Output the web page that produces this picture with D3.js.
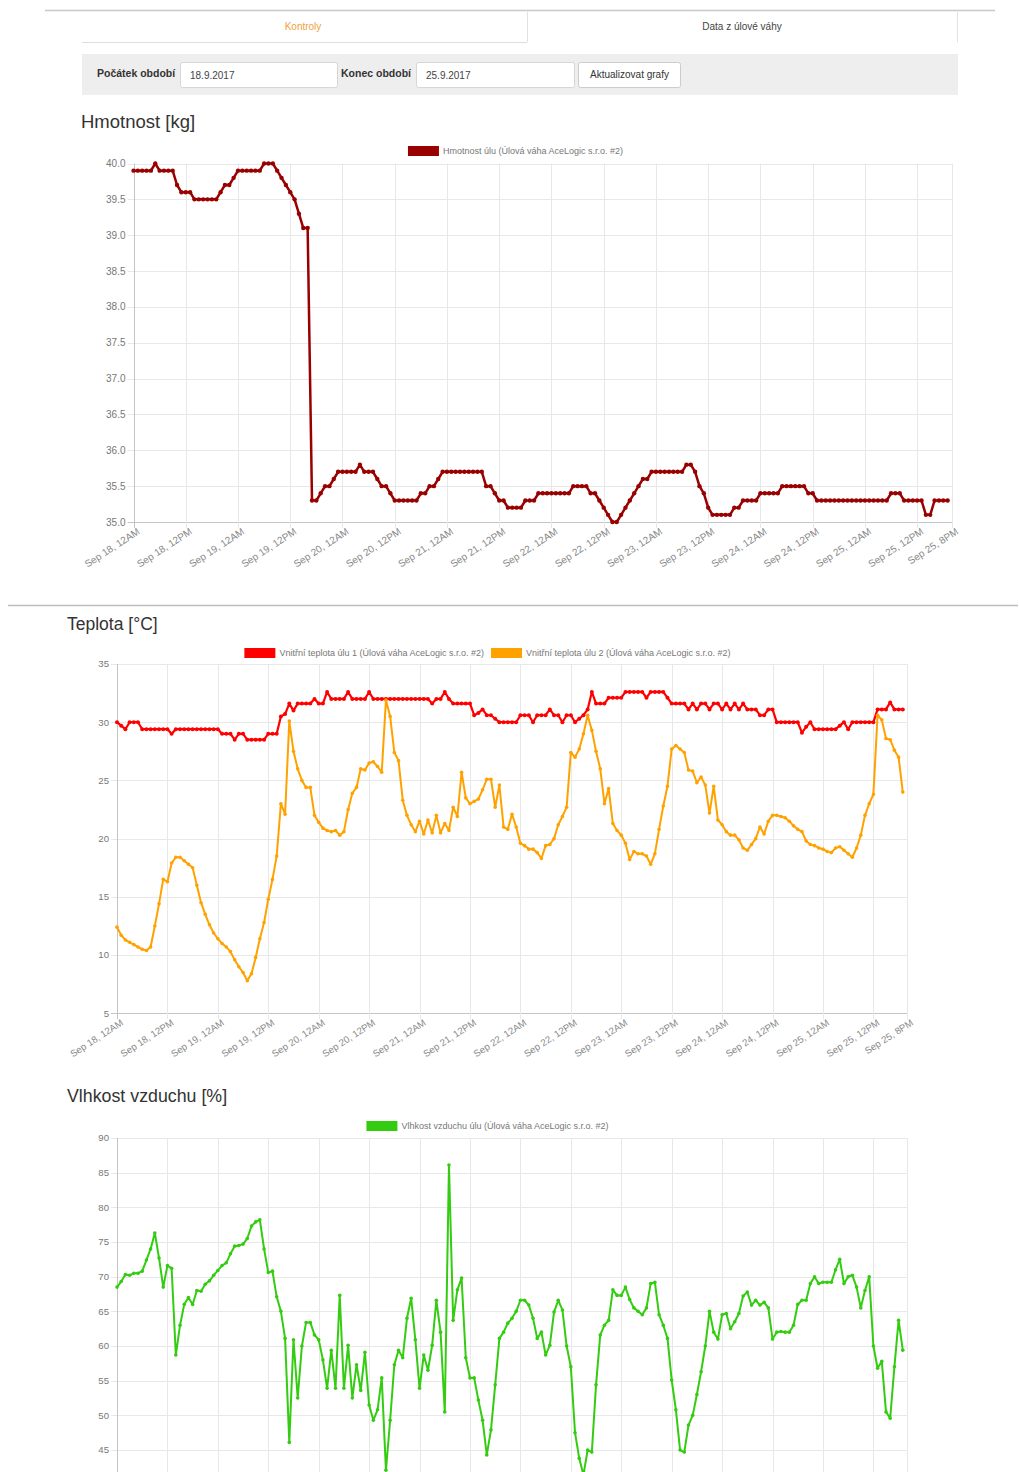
<!DOCTYPE html>
<html>
<head>
<meta charset="utf-8">
<script src="https://cdn.jsdelivr.net/npm/d3@7"></script>
<style>
  body { margin: 0; background: #fff; }
  svg { display: block; font-family: "Liberation Sans", Arial, sans-serif; }
</style>
</head>
<body>
<svg id="page" width="1019" height="1472"></svg>
<script>
// hourly readings, Sep 18 00:00 .. Sep 25 19:00
const start = new Date(2017, 8, 18, 0, 0);
const end = new Date(2017, 8, 25, 20, 0);

const weight = [
  39.9,39.9,39.9,39.9,39.9,40.0,39.9,39.9,39.9,39.9,
  39.7,39.6,39.6,39.6,39.5,39.5,39.5,39.5,39.5,39.5,
  39.6,39.7,39.7,39.8,39.9,39.9,39.9,39.9,39.9,39.9,
  40.0,40.0,40.0,39.9,39.8,39.7,39.6,39.5,39.3,39.1,
  39.1,35.3,35.3,35.4,35.5,35.5,35.6,35.7,35.7,35.7,
  35.7,35.7,35.8,35.7,35.7,35.7,35.6,35.5,35.5,35.4,
  35.3,35.3,35.3,35.3,35.3,35.3,35.4,35.4,35.5,35.5,
  35.6,35.7,35.7,35.7,35.7,35.7,35.7,35.7,35.7,35.7,
  35.7,35.5,35.5,35.4,35.3,35.3,35.2,35.2,35.2,35.2,
  35.3,35.3,35.3,35.4,35.4,35.4,35.4,35.4,35.4,35.4,
  35.4,35.5,35.5,35.5,35.5,35.4,35.4,35.3,35.2,35.1,
  35.0,35.0,35.1,35.2,35.3,35.4,35.5,35.6,35.6,35.7,
  35.7,35.7,35.7,35.7,35.7,35.7,35.7,35.8,35.8,35.7,
  35.5,35.4,35.2,35.1,35.1,35.1,35.1,35.1,35.2,35.2,
  35.3,35.3,35.3,35.3,35.4,35.4,35.4,35.4,35.4,35.5,
  35.5,35.5,35.5,35.5,35.5,35.4,35.4,35.3,35.3,35.3,
  35.3,35.3,35.3,35.3,35.3,35.3,35.3,35.3,35.3,35.3,
  35.3,35.3,35.3,35.3,35.4,35.4,35.4,35.3,35.3,35.3,
  35.3,35.3,35.1,35.1,35.3,35.3,35.3,35.3
];

const temp1 = [
  30.0,29.7,29.4,30.0,30.0,30.0,29.4,29.4,29.4,29.4,
  29.4,29.4,29.4,29.0,29.4,29.4,29.4,29.4,29.4,29.4,
  29.4,29.4,29.4,29.4,29.4,29.0,29.0,29.0,28.5,29.0,
  29.0,28.5,28.5,28.5,28.5,28.5,29.0,29.0,29.0,30.5,
  30.7,31.6,31.0,31.6,31.6,31.6,31.6,32.0,31.6,31.6,
  32.6,32.0,32.0,32.0,32.0,32.6,32.0,32.0,32.0,32.0,
  32.6,32.0,32.0,32.0,32.0,32.0,32.0,32.0,32.0,32.0,
  32.0,32.0,32.0,32.0,32.0,31.6,32.0,32.0,32.6,32.0,
  31.6,31.6,31.6,31.6,31.6,30.6,30.8,31.1,30.6,30.6,
  30.3,30.0,30.0,30.0,30.0,30.0,30.6,30.6,30.6,30.0,
  30.6,30.6,30.6,31.1,30.6,30.6,30.0,30.6,30.6,30.0,
  30.3,30.6,31.1,32.6,31.6,31.6,31.6,32.1,32.1,32.1,
  32.1,32.6,32.6,32.6,32.6,32.6,32.1,32.6,32.6,32.6,
  32.6,32.1,31.6,31.6,31.6,31.6,31.1,31.6,31.1,31.6,
  31.6,31.1,31.6,31.6,31.1,31.6,31.1,31.6,31.1,31.6,
  31.1,31.1,31.1,30.6,30.6,31.1,31.1,30.0,30.0,30.0,
  30.0,30.0,30.0,29.1,29.6,30.0,29.4,29.4,29.4,29.4,
  29.4,29.4,29.7,30.0,29.4,30.0,30.0,30.0,30.0,30.0,
  30.0,31.1,31.1,31.1,31.7,31.1,31.1,31.1
];

const temp2 = [
  12.4,11.7,11.3,11.1,10.9,10.7,10.5,10.4,10.7,12.5,
  14.4,16.5,16.3,17.9,18.4,18.4,18.1,17.8,17.5,16.0,
  14.5,13.5,12.6,11.9,11.4,11.0,10.7,10.3,9.6,9.0,
  8.5,7.8,8.4,9.8,11.4,12.8,14.8,16.5,18.5,23.0,
  22.1,30.1,27.5,26.0,25.0,24.4,24.4,22.0,21.4,20.9,
  20.7,20.6,20.7,20.3,20.6,22.5,23.9,24.4,26.0,25.9,
  26.5,26.6,26.2,25.7,31.9,30.5,27.4,26.7,23.3,22.0,
  21.2,20.6,21.5,20.4,21.6,20.5,22.0,20.5,21.3,20.7,
  22.7,21.9,25.7,23.5,23.0,23.2,23.4,24.2,25.1,25.1,
  22.7,24.6,21.0,20.8,22.1,21.0,19.6,19.4,19.1,19.1,
  18.8,18.3,19.4,19.5,20.0,21.2,21.9,22.7,27.4,27.0,
  27.7,29.0,30.6,29.3,27.5,26.0,23.0,24.3,21.3,20.7,
  20.3,19.6,18.2,18.9,18.7,18.7,18.5,17.8,18.7,20.8,
  22.8,24.5,27.7,28.0,27.7,27.4,25.9,25.8,24.8,25.3,
  24.6,22.2,24.5,21.6,21.2,20.6,20.3,20.3,19.9,19.2,
  19.0,19.5,20.0,21.0,20.4,21.5,22.0,22.0,21.9,21.8,
  21.5,21.1,20.8,20.6,19.8,19.5,19.4,19.2,19.1,18.9,
  18.8,19.2,19.3,19.0,18.7,18.4,19.2,20.3,22.0,23.0,
  23.8,30.6,30.2,28.6,28.5,27.6,27.0,24.0
];

const humidity = [
  68.5,69.3,70.3,70.2,70.5,70.5,70.8,72.4,74.0,76.3,
  72.7,68.5,71.6,71.2,58.7,63.0,66.0,67.0,66.0,68.0,
  67.9,68.9,69.4,70.2,70.9,71.6,72.0,73.3,74.4,74.5,
  74.7,75.5,77.3,77.9,78.2,74.0,70.6,70.8,67.1,65.0,
  61.1,46.1,60.9,52.5,60.0,63.4,63.4,61.6,60.9,58.0,
  53.9,59.4,53.9,67.3,53.9,60.1,52.5,57.3,53.6,59.1,
  51.5,49.3,50.8,55.4,42.1,49.3,57.3,59.4,58.3,64.0,
  66.9,60.9,53.9,58.7,56.5,60.1,66.6,62.0,50.5,86.1,
  63.7,68.1,69.8,58.3,55.4,55.4,52.2,49.3,44.3,47.9,
  54.4,61.1,62.0,63.3,64.0,65.0,66.6,66.6,65.9,64.0,
  61.1,62.0,58.7,60.1,64.9,66.6,65.2,60.0,57.0,47.5,
  43.8,41.4,45.0,44.7,54.4,61.6,63.0,63.7,68.1,67.3,
  67.3,68.5,66.7,65.5,65.0,64.5,65.5,69.0,69.2,64.5,
  63.0,61.1,55.1,50.8,45.0,44.7,48.6,50.0,53.0,56.3,
  60.0,65.0,62.0,61.0,64.5,64.7,62.5,63.5,64.7,67.2,
  67.8,65.9,66.6,65.9,66.3,65.5,61.0,62.0,62.1,62.0,
  62.0,63.0,66.0,66.6,66.6,69.0,70.0,69.0,69.2,69.2,
  69.2,71.0,72.5,69.0,70.0,70.2,68.5,65.5,68.0,70.0,
  60.0,56.8,57.8,50.5,49.6,57.0,63.7,59.4
];

const weightTicks = [35.0, 35.5, 36.0, 36.5, 37.0, 37.5, 38.0, 38.5, 39.0, 39.5, 40.0];
const tempTicks = [5, 10, 15, 20, 25, 30, 35];
const humidityTicks = [40, 45, 50, 55, 60, 65, 70, 75, 80, 85, 90];

const svg = d3.select("#page");
const pageHeight = +svg.attr("height");
const timeOf = i => d3.timeHour.offset(start, i);
const fmtTime = d3.timeFormat("%b %-d, %-I%p");

// ---- page chrome ----
svg.append("line").attr("x1", 45).attr("x2", 995).attr("y1", 10.5).attr("y2", 10.5)
    .attr("stroke", "#c8c8c8").attr("stroke-width", 1.5);
svg.append("line").attr("x1", 82).attr("x2", 527).attr("y1", 42.5).attr("y2", 42.5)
    .attr("stroke", "#ddd");
svg.append("path").attr("d", "M527.5,42V12M957.5,12V42")
    .attr("stroke", "#e2e2e2").attr("fill", "none");
svg.append("text").attr("x", 303).attr("y", 30).attr("text-anchor", "middle")
    .attr("font-size", "10px").attr("fill", "#f0a040").text("Kontroly");
svg.append("text").attr("x", 742).attr("y", 30).attr("text-anchor", "middle")
    .attr("font-size", "10px").attr("fill", "#444").text("Data z úlové váhy");

svg.append("rect").attr("x", 82).attr("y", 54).attr("width", 876).attr("height", 41).attr("fill", "#eeeeee");
const form = [
    { label: "Počátek období", lx: 97, box: [180, 157], value: "18.9.2017" },
    { label: "Konec období", lx: 341, box: [416, 158], value: "25.9.2017" }
];
form.forEach(f => {
    svg.append("text").attr("x", f.lx).attr("y", 77).attr("font-size", "10.5px")
        .attr("font-weight", "bold").attr("fill", "#333").text(f.label);
    svg.append("rect").attr("x", f.box[0] + 0.5).attr("y", 62.5).attr("width", f.box[1]).attr("height", 25)
        .attr("fill", "#fff").attr("stroke", "#d6d6d6").attr("rx", 2);
    svg.append("text").attr("x", f.box[0] + 10).attr("y", 78.5).attr("font-size", "10px")
        .attr("fill", "#444").text(f.value);
});
svg.append("rect").attr("x", 578.5).attr("y", 62.5).attr("width", 102).attr("height", 25)
    .attr("fill", "#fff").attr("stroke", "#ccc").attr("rx", 2);
svg.append("text").attr("x", 629.5).attr("y", 78).attr("text-anchor", "middle").attr("font-size", "10px")
    .attr("fill", "#333").text("Aktualizovat grafy");

svg.append("line").attr("x1", 8).attr("x2", 1018).attr("y1", 605.5).attr("y2", 605.5)
    .attr("stroke", "#bdbdbd").attr("stroke-width", 1.5);

// ---- charts ----
function drawChart(opt) {
    const x = d3.scaleTime().domain([start, end]).range([opt.left, opt.right]);
    const y = d3.scaleLinear().domain([opt.ticks[0], opt.ticks[opt.ticks.length - 1]]).range([opt.bottom, opt.top]);
    const xTicks = d3.timeHour.every(12).range(start, end).concat([end]);
    const g = svg.append("g");

    g.append("text")
        .attr("x", opt.titleX).attr("y", opt.titleY)
        .attr("font-size", opt.titleSize).attr("fill", "#333")
        .text(opt.title);

    // grid
    g.append("g").selectAll("line").data(opt.ticks).join("line")
        .attr("x1", opt.left - 6).attr("x2", opt.right)
        .attr("y1", d => Math.round(y(d)) + 0.5).attr("y2", d => Math.round(y(d)) + 0.5)
        .attr("stroke", (d, i) => i === 0 ? "#c4c4c4" : "#e8e8e8");
    g.append("g").selectAll("line").data(xTicks).join("line")
        .attr("x1", d => Math.round(x(d)) + 0.5).attr("x2", d => Math.round(x(d)) + 0.5)
        .attr("y1", opt.top).attr("y2", opt.bottom + 6)
        .attr("stroke", (d, i) => i === 0 ? "#c4c4c4" : "#e8e8e8");

    // y labels (only those that fall on the page)
    g.append("g").selectAll("text").data(opt.ticks.filter(d => y(d) < pageHeight - 8)).join("text")
        .attr("x", opt.left - 8).attr("y", d => y(d))
        .attr("dy", "0.35em").attr("text-anchor", "end")
        .attr("font-size", opt.tickSize).attr("fill", "#777")
        .text(d => opt.yFormat(d));

    // x labels
    if (opt.bottom + 10 < pageHeight) {
        g.append("g").selectAll("text").data(xTicks).join("text")
            .attr("transform", d => `translate(${x(d) + 3},${opt.bottom + 5}) rotate(-33)`)
            .attr("dy", "0.75em").attr("text-anchor", "end")
            .attr("font-size", opt.tickSize).attr("fill", "#888")
            .text(d => fmtTime(d));
    }

    // legend
    const leg = g.append("g");
    let widths = opt.series.map(s => {
        const t = leg.append("text").attr("font-size", "9px").text(s.name);
        const w = t.node().getComputedTextLength();
        t.remove();
        return w;
    });
    const boxW = 31, gap = 4, sep = 7;
    const total = d3.sum(widths) + opt.series.length * (boxW + gap) + (opt.series.length - 1) * sep;
    let cx = opt.legendCenter - total / 2;
    opt.series.forEach((s, i) => {
        leg.append("rect").attr("x", cx).attr("y", opt.legendY - 5).attr("width", boxW).attr("height", 10)
            .attr("fill", s.color);
        leg.append("text").attr("x", cx + boxW + gap).attr("y", opt.legendY + 3.3)
            .attr("font-size", "9px").attr("fill", "#777").text(s.name);
        cx += boxW + gap + widths[i] + sep;
    });

    // series
    opt.series.forEach(s => {
        const line = d3.line().x((d, i) => x(timeOf(i))).y(d => y(d));
        g.append("path").datum(s.values)
            .attr("d", line).attr("fill", "none")
            .attr("stroke", s.color).attr("stroke-width", s.width).attr("stroke-linejoin", "round");
        g.append("g").selectAll("circle").data(s.values).join("circle")
            .attr("cx", (d, i) => x(timeOf(i))).attr("cy", d => y(d))
            .attr("r", s.r).attr("fill", s.color);
    });
}

drawChart({
    title: "Hmotnost [kg]", titleX: 81, titleY: 128, titleSize: "18.5px",
    left: 133.5, right: 952, top: 163.5, bottom: 522,
    ticks: weightTicks, yFormat: d3.format(".1f"), tickSize: "10px",
    legendCenter: 515.5, legendY: 151,
    series: [{ name: "Hmotnost úlu (Úlová váha AceLogic s.r.o. #2)", values: weight, color: "#990000", width: 2.5, r: 2.2 }]
});

drawChart({
    title: "Teplota [°C]", titleX: 67, titleY: 630, titleSize: "17.5px",
    left: 117, right: 907, top: 664, bottom: 1013.3,
    ticks: tempTicks, yFormat: d3.format("d"), tickSize: "9.6px",
    legendCenter: 487.5, legendY: 653,
    series: [
        { name: "Vnitřní teplota úlu 1 (Úlová váha AceLogic s.r.o. #2)", values: temp1, color: "#ff0000", width: 2.2, r: 2 },
        { name: "Vnitřní teplota úlu 2 (Úlová váha AceLogic s.r.o. #2)", values: temp2, color: "#ffa200", width: 2, r: 1.8 }
    ]
});

drawChart({
    title: "Vlhkost vzduchu [%]", titleX: 67, titleY: 1102, titleSize: "17.8px",
    left: 117, right: 907, top: 1138, bottom: 1484.7,
    ticks: humidityTicks, yFormat: d3.format("d"), tickSize: "9.6px",
    legendCenter: 487.5, legendY: 1126,
    series: [{ name: "Vlhkost vzduchu úlu (Úlová váha AceLogic s.r.o. #2)", values: humidity, color: "#33cc11", width: 2, r: 1.8 }]
});
</script>
</body>
</html>
